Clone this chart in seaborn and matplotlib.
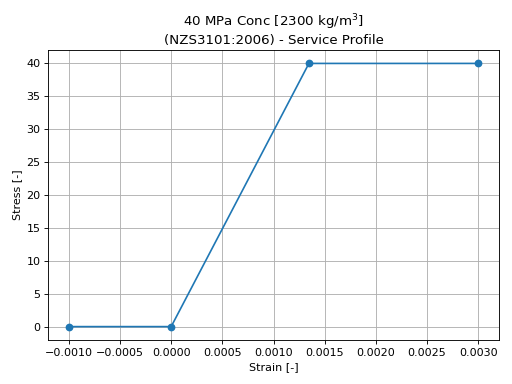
import numpy as np
import pandas as pd
import matplotlib
matplotlib.use('Agg')
import matplotlib.pyplot as plt
import seaborn as sns

# service profile points
strain = [-0.001, 0.0, 40 / 29725.0, 0.003]
stress = [0.0, 0.0, 40.0, 40.0]

df = pd.DataFrame({'Strain': strain, 'Stress': stress})

fig, ax = plt.subplots(figsize=(6.4, 4.8), dpi=80)
sns.lineplot(data=df, x='Strain', y='Stress', marker='o', markersize=7,
             markeredgewidth=0, sort=False, color='#1f77b4', ax=ax)
ax.grid(True)
ax.set_xlabel('Strain [-]')
ax.set_ylabel('Stress [-]')
ax.set_title('40 MPa Conc [2300 kg/m$^3$]\n(NZS3101:2006) - Service Profile')
ax.set_xticks(np.arange(-0.001, 0.00301, 0.0005))
fig.tight_layout()
fig.savefig('out.png', dpi=80)
